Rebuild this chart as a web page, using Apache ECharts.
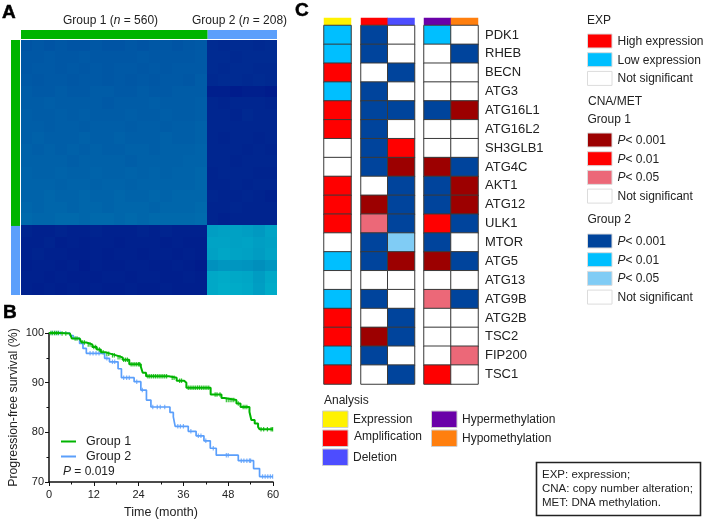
<!DOCTYPE html>
<html><head><meta charset="utf-8">
<style>html,body{margin:0;padding:0;background:#fff}#c{width:705px;height:520px}</style>
<script src="https://cdn.jsdelivr.net/npm/echarts@6/dist/echarts.min.js"></script>
</head><body><div id="c"></div>
<script>
// ---------- Panel A: consensus matrix, estimated block brightness (coarse cells) ----------
const groupSizes = [560, 208];
const consensusRows = [
 [3.3,3.4,3.3,3.4,3.3,3.3,3.4,3.3,3.3,3.4,3.3,3.4,3.4,3.3,3.4,3.5, 1.7,1.6,1.7,1.7,1.6,1.7],
 [3.4,3.4,3.5,3.4,3.4,3.5,3.4,3.4,3.4,3.4,3.5,3.4,3.4,3.4,3.4,3.5, 1.7,1.7,1.6,1.7,1.7,1.7],
 [3.4,3.5,3.5,3.4,3.5,3.4,3.5,3.4,3.5,3.5,3.4,3.5,3.4,3.5,3.5,3.5, 1.7,1.6,1.7,1.7,1.6,1.6],
 [3.5,3.4,3.5,3.5,3.4,3.5,3.5,3.4,3.5,3.4,3.5,3.4,3.5,3.5,3.4,3.6, 1.6,1.7,1.7,1.6,1.7,1.6],
 [3.6,3.5,3.5,3.6,3.5,3.5,3.6,3.6,3.5,3.5,3.6,3.5,3.5,3.6,3.6,3.6, 1.2,1.2,1.1,1.2,1.2,1.1],
 [3.6,3.6,3.7,3.6,3.6,3.6,3.6,3.5,3.6,3.6,3.6,3.7,3.6,3.6,3.6,3.7, 1.5,1.4,1.5,1.5,1.5,1.4],
 [3.7,3.6,3.6,3.7,3.6,3.7,3.6,3.6,3.6,3.7,3.6,3.6,3.7,3.6,3.6,3.7, 1.5,1.5,1.4,1.6,1.5,1.5],
 [3.7,3.7,3.6,3.7,3.7,3.6,3.7,3.7,3.7,3.6,3.7,3.7,3.6,3.7,3.7,3.8, 1.5,1.5,1.5,1.5,1.5,1.5],
 [3.7,3.8,3.7,3.7,3.7,3.8,3.7,3.7,3.8,3.7,3.7,3.7,3.8,3.7,3.7,3.8, 1.5,1.4,1.5,1.5,1.4,1.5],
 [3.8,3.7,3.8,3.7,3.8,3.7,3.8,3.7,3.7,3.8,3.8,3.7,3.8,3.8,3.8,3.9, 1.5,1.5,1.5,1.4,1.5,1.4],
 [3.8,3.8,3.8,3.8,3.7,3.8,3.8,3.8,3.8,3.7,3.8,3.8,3.8,3.8,3.9,3.9, 1.5,1.5,1.4,1.5,1.5,1.5],
 [3.9,3.8,3.8,3.9,3.8,3.8,3.9,3.8,3.8,3.9,3.8,3.9,3.8,3.9,3.9,4.0, 1.4,1.5,1.5,1.5,1.4,1.4],
 [3.9,3.9,3.9,3.8,3.9,3.9,3.8,3.9,3.9,3.8,3.9,3.9,3.9,3.9,3.9,4.0, 1.4,1.4,1.5,1.4,1.5,1.5],
 [3.9,3.9,4.0,3.9,3.9,4.0,3.9,3.9,4.0,3.9,3.9,4.0,3.9,4.0,4.0,4.0, 1.5,1.4,1.4,1.5,1.4,1.3],
 [4.0,3.9,4.0,4.0,3.9,4.0,4.0,3.9,4.0,4.0,4.0,3.9,4.0,4.0,4.0,4.1, 1.4,1.4,1.5,1.4,1.4,1.4],
 [4.1,4.0,4.0,4.1,4.1,4.0,4.1,4.1,4.0,4.1,4.0,4.1,4.1,4.1,4.1,4.2, 1.4,1.3,1.4,1.4,1.4,1.4],
 [1.4,1.3,1.3,1.4,1.3,1.3,1.4,1.3,1.3,1.3,1.4,1.3,1.4,1.3,1.3,1.3, 6.2,6.3,6.3,6.2,6.0,6.4],
 [1.3,1.3,1.4,1.2,1.3,1.2,1.3,1.3,1.2,1.3,1.3,1.3,1.2,1.3,1.2,1.2, 6.4,6.4,6.3,6.4,6.2,6.3],
 [1.3,1.4,1.3,1.3,1.2,1.2,1.3,1.2,1.3,1.3,1.2,1.3,1.3,1.2,1.3,1.2, 6.3,6.5,6.4,6.3,6.1,6.4],
 [1.2,1.3,1.3,1.2,1.3,1.1,1.3,1.2,1.2,1.3,1.3,1.2,1.2,1.3,1.2,1.1, 5.7,5.9,5.9,5.8,5.6,5.9],
 [1.3,1.3,1.2,1.3,1.2,1.2,1.2,1.3,1.3,1.2,1.3,1.3,1.2,1.2,1.3,1.2, 6.6,6.7,6.6,6.5,6.1,6.6],
 [1.3,1.2,1.3,1.2,1.3,1.2,1.3,1.2,1.2,1.3,1.2,1.2,1.3,1.2,1.2,1.2, 6.6,6.8,6.7,6.6,6.2,6.7]
];

// ---------- Panel B: Kaplan-Meier steps [month, survival %] and censor times ----------
const group1Curve = [[0,100],[2.9,99.9],[5.6,99.5],[6.1,98.9],[8.2,98.5],[8.7,98.1],[10,97.7],[11.6,97.2],[12.8,96.7],[13.9,96.1],[15.2,95.8],[16.6,95.5],[18,95.1],[19.7,94.6],[21.5,93.7],[24.6,93.2],[25.1,92],[26,91.3],[32.1,91],[34.2,90.4],[36.2,90],[36.8,89],[43.3,87.6],[46.2,86.9],[47,86.5],[50.2,85.8],[51.3,85.1],[53.7,84.1],[54.2,82.5],[55.1,81.8],[56,81.1],[56.4,80.6],[60,80.6]];
const group2Curve = [[0,100],[5.6,99.5],[6.5,98.9],[8.2,97.9],[9.1,96.9],[10,95.9],[14.9,94.9],[16.2,94.2],[18.5,92.8],[19.4,91],[22.8,90.2],[24.6,88.5],[26.1,86.5],[27.3,85.1],[32.4,84],[33.3,83.1],[33.8,81.2],[37.3,80.2],[39.4,79.3],[41.5,78.3],[43.2,76.8],[44.8,75.4],[50.7,74.3],[54.8,72.7],[56.4,71.1],[60,71.1]];
const group1Censored = [0.5,1,1.5,2,2.5,3.5,4.5,7,7.5,9,9.5,10.5,11,12,12.5,13.5,14.5,15.5,16,17,17.5,18.5,19,20,20.5,21,22,22.5,23,23.5,24,24.3,26.5,27,27.5,28,28.5,29,29.5,30,30.5,31,31.5,33,33.5,35,35.5,37.3,37.8,38.3,38.8,39.3,39.8,40.3,40.8,41.3,41.8,42.3,42.8,44.5,45,45.8,47.5,48,48.5,49,49.5,50.7,52,52.5,53,56.8,57.5,58.5,59.5,59.9];
const group2Censored = [0.8,1.6,2.4,3,11,11.8,12.6,13.4,15.5,17,17.6,20,20.8,21.5,23.5,25,27.8,29,29.8,31,34.5,35.2,36,38,40,40.7,42,44,47.5,48,51.5,52.2,53,53.7,54,57.2,57.9,58.6,59.3,59.9];

// ---------- Panel C: significance table ----------
const genes = ['PDK1','RHEB','BECN','ATG3','ATG16L1','ATG16L2','SH3GLB1','ATG4C','AKT1','ATG12','ULK1','MTOR','ATG5','ATG13','ATG9B','ATG2B','TSC2','FIP200','TSC1'];
// n: not significant, H/L: high/low expression, R/r/p: group 1 P<.001/.01/.05, B/C/S: group 2 P<.001/.01/.05
const expression      = ['L','L','H','L','H','H','n','n','H','H','H','n','L','n','L','H','H','L','H'];
const amplification   = ['B','B','n','B','B','B','B','B','n','R','p','B','B','n','B','n','R','B','n'];
const deletion        = ['n','n','B','n','B','n','r','R','B','B','B','S','R','n','n','B','B','n','B'];
const hypermethylation= ['C','n','n','n','B','n','n','R','B','B','r','B','R','n','p','n','n','n','r'];
const hypomethylation = ['n','B','n','n','R','n','n','B','R','R','B','n','B','n','B','n','n','p','n'];
const analyses = ['Expression','Amplification','Deletion','Hypermethylation','Hypomethylation'];

const palette = {n:'#ffffff',H:'#ff0000',L:'#00bfff',R:'#9c0000',r:'#ff0000',p:'#ec6878',B:'#00449c',C:'#00bfff',S:'#80ccf5',
  Expression:'#fff200',Amplification:'#ff0000',Deletion:'#4d4dff',Hypermethylation:'#6a00a8',Hypomethylation:'#ff7f0e'};
const codes = Object.keys(palette);
const GREEN = '#00b400', BLUE = '#5b9ffb', FONT = '"Liberation Sans", Arial, sans-serif', INK = '#222';

const grids=[], xAxes=[], yAxes=[], series=[];
function addGrid(g,x,y){grids.push(g);x.gridIndex=grids.length-1;y.gridIndex=grids.length-1;xAxes.push(x);yAxes.push(y);return grids.length-1;}
const hiddenCat = d=>({type:'category',data:d,show:false});

// Panel A matrix
const ids = consensusRows.map((_,i)=>i);
let gi = addGrid({left:21,top:40,width:256,height:255},hiddenCat(ids),Object.assign(hiddenCat(ids),{inverse:true}));
const matrixData=[]; consensusRows.forEach((r,y)=>r.forEach((v,x)=>matrixData.push([x,y,v])));
series.push({type:'custom',name:'Consensus',xAxisIndex:gi,yAxisIndex:gi,data:matrixData,silent:true,clip:true,
  encode:{x:0,y:1},
  renderItem:(params,api)=>{
    const c=api.coord([api.value(0),api.value(1)]), s=api.size([1,1]);
    const x0=Math.floor(c[0]-s[0]/2), y0=Math.floor(c[1]-s[1]/2), x1=Math.ceil(c[0]+s[0]/2), y1=Math.ceil(c[1]+s[1]/2);
    return {type:'rect',shape:{x:x0,y:y0,width:x1-x0,height:y1-y0},style:{fill:api.visual('color')}};
  }});
const matrixSeriesIndex = series.length-1;

// Group annotation bars
gi = addGrid({left:21,top:30,width:256,height:9},{type:'value',min:0,max:groupSizes[0]+groupSizes[1],show:false},hiddenCat(['g']));
[GREEN,BLUE].forEach((c,i)=>series.push({type:'bar',stack:'t',barWidth:'100%',silent:true,xAxisIndex:gi,yAxisIndex:gi,data:[groupSizes[i]],itemStyle:{color:c}}));
gi = addGrid({left:11,top:40,width:9,height:255},hiddenCat(['g']),{type:'value',inverse:true,min:0,max:groupSizes[0]+groupSizes[1],show:false});
[GREEN,BLUE].forEach((c,i)=>series.push({type:'bar',stack:'l',barWidth:'100%',silent:true,xAxisIndex:gi,yAxisIndex:gi,data:[groupSizes[i]],itemStyle:{color:c}}));

// Panel B
const axisStyle={lineStyle:{color:'#111',width:1.5}};
gi = addGrid({left:49,top:333,width:224,height:149},
 {type:'value',min:0,max:60,interval:12,splitLine:{show:false},axisLine:axisStyle,
  axisTick:{length:4,lineStyle:{color:'#111',width:1}},minorTick:{show:true,splitNumber:2,length:2.5,lineStyle:{color:'#111',width:1}},
  axisLabel:{fontFamily:FONT,fontSize:11,color:INK,margin:7},
  name:'Time (month)',nameLocation:'middle',nameGap:24,nameTextStyle:{fontFamily:FONT,fontSize:12.5,color:INK}},
 {type:'value',min:70,max:100,interval:10,splitLine:{show:false},axisLine:Object.assign({show:true},axisStyle),
  axisTick:{show:true,length:4,lineStyle:{color:'#111',width:1}},minorTick:{show:true,splitNumber:2,length:2.5,lineStyle:{color:'#111',width:1}},
  axisLabel:{fontFamily:FONT,fontSize:11,color:INK,margin:5},
  name:'Progression-free survival (%)',nameLocation:'middle',nameGap:29,nameTextStyle:{fontFamily:FONT,fontSize:12.3,color:INK}});
const kmGrid=gi;
const survivalAt=(curve,t)=>{let v=curve[0][1];for(const p of curve){if(p[0]<=t)v=p[1];}return v;};
[['Group 2',group2Curve,group2Censored,BLUE,1.7],['Group 1',group1Curve,group1Censored,GREEN,2]].forEach(([name,curve,cens,col,lw])=>{
  series.push({type:'line',name,step:'end',symbol:'none',silent:true,clip:false,xAxisIndex:kmGrid,yAxisIndex:kmGrid,data:curve,lineStyle:{color:col,width:lw},itemStyle:{color:col}});
  series.push({type:'scatter',name:name+' censored',symbol:'rect',symbolSize:[1.2,4.5],silent:true,clip:false,xAxisIndex:kmGrid,yAxisIndex:kmGrid,
    data:cens.map(t=>[t,survivalAt(curve,t)]),itemStyle:{color:col}});
});

// Panel C
const toRows = c=>c.flatMap((col,x)=>col.map((v,y)=>[x,y,codes.indexOf(v)]));
const blocks=[
 {left:324,width:27,cols:[expression],heads:['Expression']},
 {left:361,width:53.5,cols:[amplification,deletion],heads:['Amplification','Deletion']},
 {left:424,width:54,cols:[hypermethylation,hypomethylation],heads:['Hypermethylation','Hypomethylation']}
];
blocks.forEach((b,bi)=>{
  const hdr=addGrid({left:b.left,width:b.width,top:18,height:7},hiddenCat(b.heads),hiddenCat(['head']));
  series.push({type:'heatmap',silent:true,xAxisIndex:hdr,yAxisIndex:hdr,progressive:0,data:b.heads.map((h,x)=>[x,0,codes.indexOf(h)])});
  const y=Object.assign(hiddenCat(genes),{inverse:true});
  if(bi===2){Object.assign(y,{show:true,position:'right',axisLine:{show:false},axisTick:{show:false},
     axisLabel:{fontFamily:FONT,fontSize:13,color:INK,margin:7,interval:0}});}
  const body=addGrid({left:b.left,width:b.width,top:25.5,height:358.5},hiddenCat(b.cols.map((_,i)=>i)),y);
  series.push({type:'heatmap',silent:true,xAxisIndex:body,yAxisIndex:body,progressive:0,data:toRows(b.cols),
    itemStyle:{borderColor:'#3a3a3a',borderWidth:1}});
});

// Text + legends (non-data furniture)
const g=[];
const txt=(x,y,text,o={})=>g.push({type:'text',x,y,silent:true,style:Object.assign({text,fill:INK,fontFamily:FONT,fontSize:12,verticalAlign:'middle',align:'left',
   rich:{i:{fontStyle:'italic',fontFamily:FONT,fontSize:o.fontSize||12,fill:INK},t:{fontFamily:FONT,fontSize:o.fontSize||12,fill:INK}}},o)});
const sw=(x,y,w,h,c,s)=>g.push({type:'rect',silent:true,shape:{x,y,width:w,height:h},style:{fill:c,stroke:s||'#dcdcdc',lineWidth:1}});
const letter={fontWeight:'bold',fontSize:19,fill:'#000',stroke:'#000',lineWidth:0.5};
txt(2,13,'A',letter);
txt(3,313,'B',letter);
txt(295,11,'C',letter);
txt(63,21,'{t|Group 1 (}{i|n}{t| = 560)}');
txt(192,21,'{t|Group 2 (}{i|n}{t| = 208)}');
txt(63,472,'{i|P}{t| = 0.019}',{fontSize:12});

const expLegend=[['H','High expression'],['L','Low expression'],['n','Not significant']];
const g1Legend=[['R','< 0.001'],['r','< 0.01'],['p','< 0.05'],['n','Not significant']];
const g2Legend=[['B','< 0.001'],['C','< 0.01'],['S','< 0.05'],['n','Not significant']];
const legendRow=(arr,y0,step)=>arr.forEach(([k,label],i)=>{
  const y=y0+i*step; sw(587.5,y,24.5,14,palette[k]);
  txt(617.5,y+7.5,label[0]==='<'?'{i|P}{t|'+label+'}':label);
});
txt(587,21,'EXP'); legendRow(expLegend,34,18.7);
txt(588,102,'CNA/MET'); txt(587.5,120,'Group 1'); legendRow(g1Legend,133,18.7);
txt(587.5,220,'Group 2'); legendRow(g2Legend,234,18.7);
txt(324,401,'Analysis');
[[322.5,411,353,420],[322.5,430,354,437],[322.5,449,353,458],[431.5,411,462,420],[431.5,430,462,439]].forEach((p,i)=>{
  sw(p[0],p[1],25.5,16.5,palette[analyses[i]],'#cfcfcf'); txt(p[2],p[3],analyses[i]);
});
g.push({type:'rect',silent:true,shape:{x:536.5,y:462.5,width:164,height:53},style:{fill:'#fff',stroke:'#222',lineWidth:1.6}});
const boxFont={fontSize:11.5};
txt(542,475,'EXP: expression;',boxFont); txt(542,489,'CNA: copy number alteration;',boxFont); txt(542,503,'MET: DNA methylation.',boxFont);

const chart=echarts.init(document.getElementById('c'),null,{renderer:'canvas'});
const heatIdx=series.map((s,i)=>s.type==='heatmap'?i:-1).filter(i=>i>=0);
chart.setOption({
  animation:false,backgroundColor:'#fff',textStyle:{fontFamily:FONT},
  grid:grids,xAxis:xAxes,yAxis:yAxes,series,graphic:{elements:g},
  legend:{data:['Group 1','Group 2'],orient:'vertical',left:61,top:435,padding:0,itemWidth:15,itemHeight:2,itemGap:2,icon:'rect',selectedMode:false,
    textStyle:{fontFamily:FONT,fontSize:12.5,color:INK,padding:[0,0,0,5]}},
  visualMap:[
    {show:false,type:'continuous',seriesIndex:matrixSeriesIndex,dimension:2,min:0,max:10,calculable:false,inRange:{color:['#000080','#00ffec']}},
    {show:false,type:'piecewise',seriesIndex:heatIdx,pieces:codes.map((k,i)=>({value:i,color:palette[k]}))}
  ]
});
</script></body></html>
